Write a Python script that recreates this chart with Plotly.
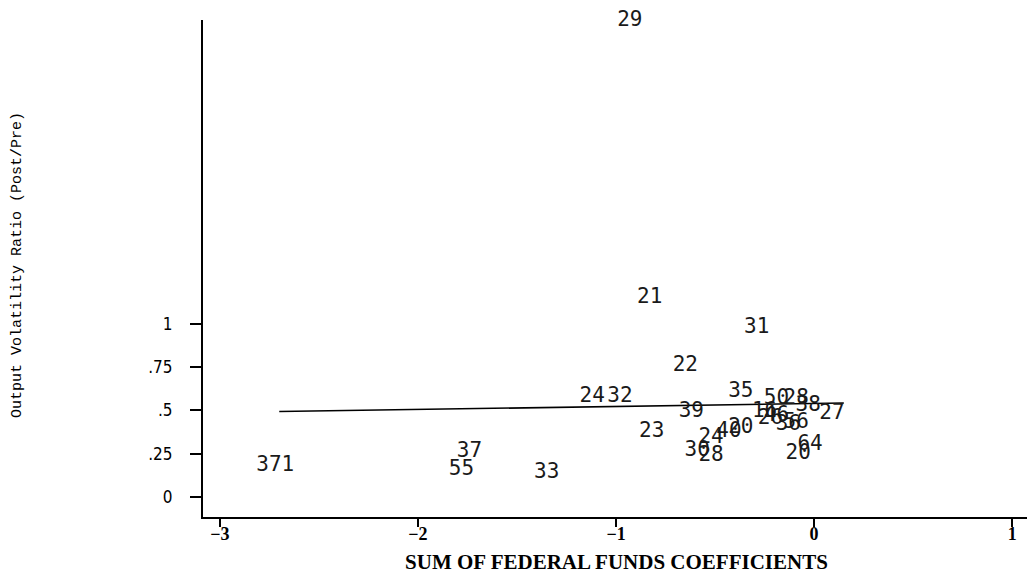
import plotly.graph_objects as go

# Labelled points (label, x = sum of federal funds coefficients, y = output volatility ratio)
labels = ["29", "21", "31", "22", "24", "32", "35", "39", "23", "371", "37", "55", "33",
          "27", "50", "28", "38", "16", "46", "26", "36", "56", "30", "24", "28", "40",
          "20", "20", "64"]
x_vals = [-0.93, -0.83, -0.29, -0.65, -1.12, -0.98, -0.37, -0.62, -0.82, -2.72, -1.74, -1.78, -1.35,
          0.09, -0.19, -0.09, -0.03, -0.25, -0.19, -0.22, -0.13, -0.09, -0.59, -0.52, -0.52, -0.43,
          -0.37, -0.08, -0.02]
y_vals = [2.75, 1.15, 0.98, 0.76, 0.58, 0.58, 0.61, 0.49, 0.38, 0.18, 0.26, 0.16, 0.14,
          0.48, 0.57, 0.57, 0.53, 0.49, 0.47, 0.45, 0.42, 0.43, 0.27, 0.34, 0.24, 0.38,
          0.40, 0.25, 0.30]

# Fitted line
fit_x = [-2.70, 0.15]
fit_y = [0.494, 0.543]

x_ticks = [-3, -2, -1, 0, 1]
x_ticktext = ["\u22123", "\u22122", "\u22121", "0", "1"]
y_ticks = [0, 0.25, 0.5, 0.75, 1]
y_ticktext = ["0", ".25", ".5", ".75", "1"]

fig = go.Figure()
fig.add_trace(go.Scatter(x=fit_x, y=fit_y, mode="lines",
                         line=dict(color="black", width=1.6), showlegend=False, hoverinfo="skip"))
fig.add_trace(go.Scatter(x=x_vals, y=y_vals, mode="text", text=labels,
                         textposition="middle center",
                         textfont=dict(family="DejaVu Sans Mono", size=21, color="#1a1a1a"),
                         cliponaxis=False, showlegend=False))

fig.update_layout(
    width=1027, height=573,
    paper_bgcolor="white", plot_bgcolor="white",
    margin=dict(l=195, r=5, t=12, b=64),
    xaxis=dict(range=[-3.085, 1.09], tickvals=x_ticks, ticktext=x_ticktext,
               showgrid=False, zeroline=False, showline=True, linecolor="black", linewidth=2,
               ticks="outside", ticklen=8, tickwidth=1.5, tickcolor="black",
               ticklabelstandoff=-9,
               tickfont=dict(family="Liberation Serif", size=18, color="black", weight="bold"),
               title=dict(text="<b>SUM OF FEDERAL FUNDS COEFFICIENTS</b>",
                          font=dict(family="Liberation Serif", size=21, color="black"),
                          standoff=12)),
    yaxis=dict(range=[-0.1156, 2.757], tickvals=y_ticks, ticktext=y_ticktext,
               showgrid=False, zeroline=False, showline=True, linecolor="black", linewidth=2,
               ticks="outside", ticklen=11, tickwidth=1.5, tickcolor="black",
               ticklabelstandoff=14,
               tickfont=dict(family="DejaVu Sans Condensed", size=17, color="black")),
    annotations=[dict(text="Output Volatility Ratio (Post/Pre)", textangle=-90,
                      xref="paper", yref="paper", x=0, y=0.507, xanchor="center", yanchor="middle",
                      xshift=-186, showarrow=False,
                      font=dict(family="Liberation Mono", size=15, color="black"))],
)

fig.write_html("out.html")
